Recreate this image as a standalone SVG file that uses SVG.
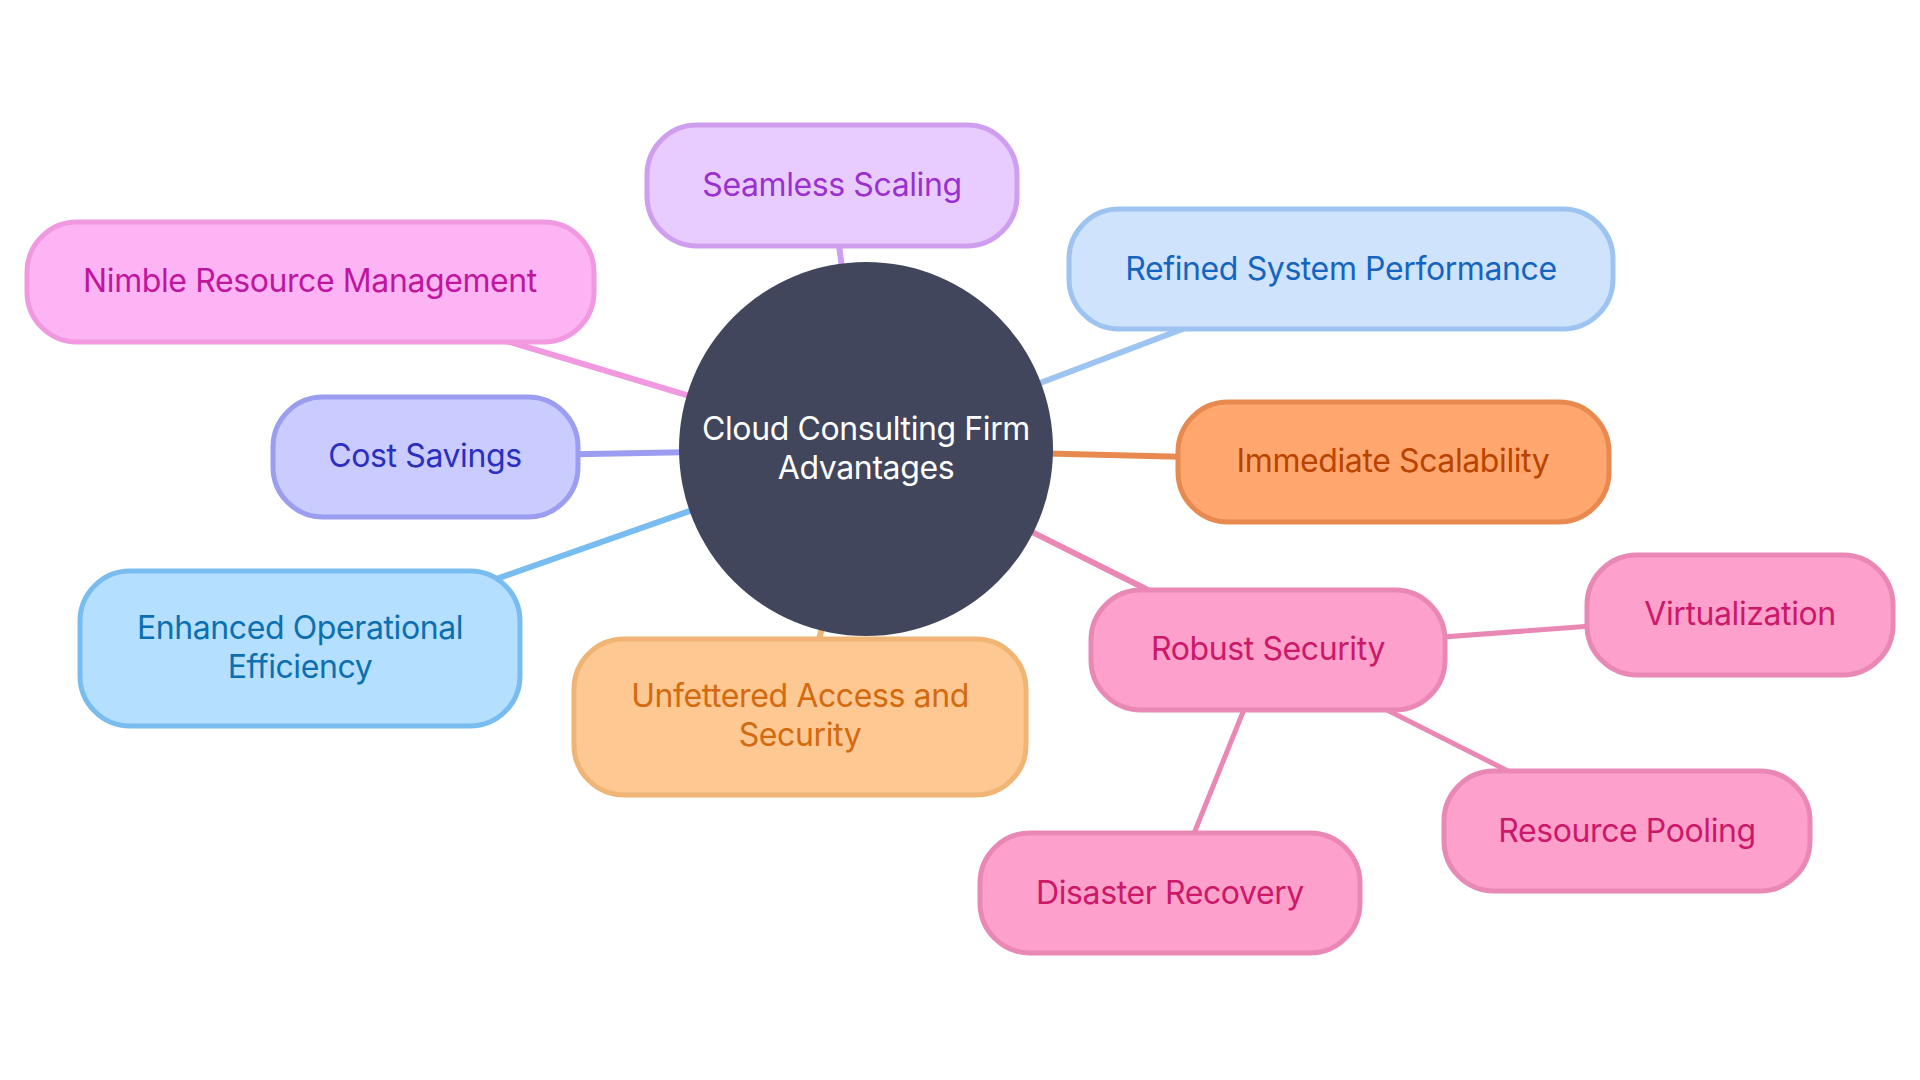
<svg xmlns="http://www.w3.org/2000/svg" width="1920" height="1080" viewBox="0 0 1920 1080">
<style>
text{font-family:Inter,"Noto Sans",sans-serif;font-size:32px;text-anchor:middle;dominant-baseline:central;letter-spacing:-0.4px}
.n{stroke-width:5}
.c{stroke-width:6;fill:none;stroke-linecap:round}
.s{stroke-width:5;fill:none;stroke-linecap:round}
</style>
<rect width="1920" height="1080" fill="#ffffff"/>
<g id="connectors">
<line class="c" x1="866" y1="449" x2="831" y2="185" stroke="#cf9eee"/>
<line class="c" x1="866" y1="449" x2="310" y2="282" stroke="#f099e0"/>
<line class="c" x1="866" y1="449" x2="1341" y2="269" stroke="#9dc3f0"/>
<line class="c" x1="866" y1="449" x2="1393" y2="462" stroke="#e8894f"/>
<line class="c" x1="866" y1="449" x2="425" y2="457" stroke="#9b9ef0"/>
<line class="c" x1="866" y1="449" x2="300" y2="648" stroke="#79bdf0"/>
<line class="c" x1="866" y1="449" x2="800" y2="717" stroke="#f0b475"/>
<line class="c" x1="866" y1="449" x2="1268" y2="650" stroke="#ea88b5"/>
<line class="s" x1="1268" y1="650" x2="1740" y2="615" stroke="#ea88b5"/>
<line class="s" x1="1268" y1="650" x2="1627" y2="831" stroke="#ea88b5"/>
<line class="s" x1="1268" y1="650" x2="1170" y2="893" stroke="#ea88b5"/>
</g>
<g id="center">
<circle cx="866" cy="449" r="187" fill="#41465c"/>
<text x="866" y="428" fill="#ffffff">Cloud Consulting Firm</text>
<text x="866" y="467" fill="#ffffff">Advantages</text>
</g>
<g id="seamless-scaling">
<rect class="n" x="647" y="125" width="370" height="121" rx="50" fill="#e9ccff" stroke="#cf9eee"/>
<text x="832" y="184" fill="#9b30d0">Seamless Scaling</text>
</g>
<g id="nimble-resource-management">
<rect class="n" x="27" y="222" width="567" height="120" rx="50" fill="#fcb4f4" stroke="#f099e0"/>
<text x="310" y="280" fill="#c0169e">Nimble Resource Management</text>
</g>
<g id="refined-system-performance">
<rect class="n" x="1069" y="209" width="544" height="120" rx="50" fill="#cfe3fc" stroke="#9dc3f0"/>
<text x="1341" y="268" fill="#1565c0">Refined System Performance</text>
</g>
<g id="immediate-scalability">
<rect class="n" x="1178" y="402" width="431" height="120" rx="50" fill="#ffa76e" stroke="#e8894f"/>
<text x="1393" y="460" fill="#b84400">Immediate Scalability</text>
</g>
<g id="cost-savings">
<rect class="n" x="273" y="397" width="305" height="120" rx="50" fill="#cacbff" stroke="#9b9ef0"/>
<text x="425" y="455" fill="#2a2fc0">Cost Savings</text>
</g>
<g id="enhanced-operational-efficiency">
<rect class="n" x="80" y="571" width="440" height="155" rx="50" fill="#b5dffe" stroke="#79bdf0"/>
<text x="300" y="627" fill="#0b6fb0">Enhanced Operational</text>
<text x="300" y="666" fill="#0b6fb0">Efficiency</text>
</g>
<g id="unfettered-access-and-security">
<rect class="n" x="574" y="639" width="452" height="156" rx="50" fill="#fdc891" stroke="#f0b475"/>
<text x="800" y="695" fill="#d36a10">Unfettered Access and</text>
<text x="800" y="734" fill="#d36a10">Security</text>
</g>
<g id="robust-security">
<rect class="n" x="1091" y="590" width="354" height="120" rx="50" fill="#fda0cc" stroke="#ea88b5"/>
<text x="1268" y="648" fill="#cc1868">Robust Security</text>
</g>
<g id="virtualization">
<rect class="n" x="1587" y="555" width="306" height="120" rx="50" fill="#fda0cc" stroke="#ea88b5"/>
<text x="1740" y="613" fill="#cc1868">Virtualization</text>
</g>
<g id="resource-pooling">
<rect class="n" x="1444" y="771" width="366" height="120" rx="50" fill="#fda0cc" stroke="#ea88b5"/>
<text x="1627" y="830" fill="#cc1868">Resource Pooling</text>
</g>
<g id="disaster-recovery">
<rect class="n" x="980" y="833" width="380" height="120" rx="50" fill="#fda0cc" stroke="#ea88b5"/>
<text x="1170" y="892" fill="#cc1868">Disaster Recovery</text>
</g>
</svg>
